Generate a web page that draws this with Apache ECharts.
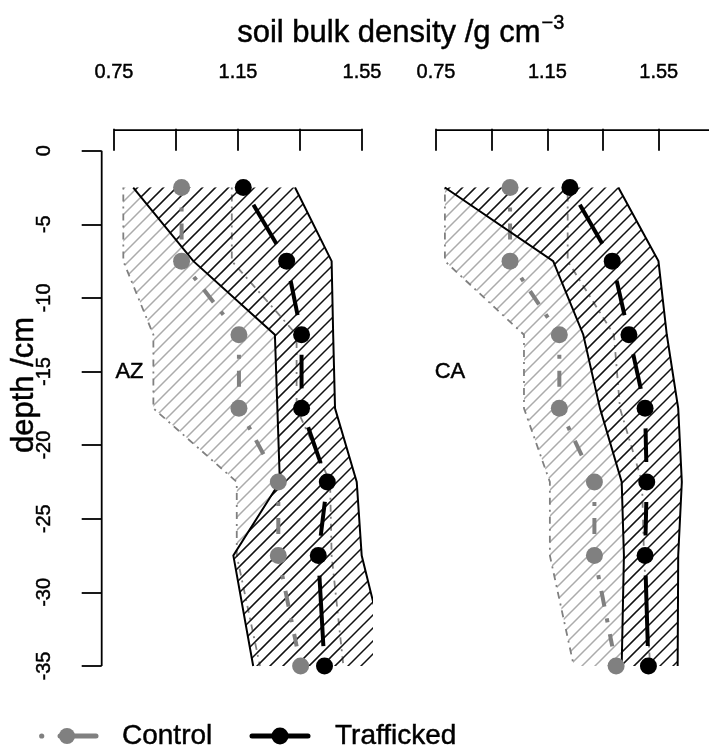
<!DOCTYPE html>
<html>
<head>
<meta charset="utf-8">
<script src="https://cdn.jsdelivr.net/npm/echarts@6/dist/echarts.min.js"></script>
<style>
  html, body { margin: 0; padding: 0; background: #fff; }
  #chart { width: 709px; height: 751px; }
</style>
</head>
<body>
<div id="chart"></div>
<script>
// Sampling depths (cm, negative downwards)
const depth = [-2.5, -7.5, -12.5, -17.5, -22.5, -27.5, -35];

// AZ site: mean bulk density and envelope (g cm-3)
const azControl      = [0.968, 0.968, 1.153, 1.153, 1.280, 1.280, 1.352];
const azControlLow   = [0.780, 0.780, 0.877, 0.877, 1.146, 1.146, 1.221];
const azControlHigh  = [1.130, 1.130, 1.339, 1.339, 1.447, 1.452, 1.490];
const azTraffic      = [1.167, 1.307, 1.355, 1.355, 1.438, 1.409, 1.429];
const azTrafficLow   = [0.812, 1.006, 1.269, 1.277, 1.285, 1.135, 1.199];
const azTrafficHigh  = [1.334, 1.452, 1.457, 1.463, 1.533, 1.549, 1.637];

// CA site
const caControl      = [1.016, 1.016, 1.193, 1.193, 1.319, 1.319, 1.397];
const caControlLow   = [0.782, 0.782, 1.066, 1.066, 1.159, 1.159, 1.245];
const caControlHigh  = [1.223, 1.223, 1.389, 1.411, 1.490, 1.497, 1.519];
const caTraffic      = [1.231, 1.383, 1.443, 1.501, 1.507, 1.501, 1.513];
const caTrafficLow   = [0.782, 1.171, 1.279, 1.339, 1.417, 1.425, 1.417];
const caTrafficHigh  = [1.405, 1.549, 1.579, 1.620, 1.633, 1.620, 1.618];

// Axis ticks and labels
const xTicks  = [0.75, 0.95, 1.15, 1.35, 1.55];
const xLabels = [0.75, 1.15, 1.55];
const yTicks  = [0, -5, -10, -15, -20, -25, -30, -35];
const siteNames = ['AZ', 'CA'];

const FONT = "'Liberation Sans', Arial, Helvetica, sans-serif";
const GREY = '#808080';
const GAP = 20;           // gap left around each point by the connecting segments
const TEXT_EDGE = 0.45;   // slight stroke to give labels a heavier weight

// axis ranges (data units) for both panels
const Y_MIN = -36.4, Y_MAX = 1.4;
const X1_MIN = 0.7103, X1_MAX = 1.5845;
const X2_MIN = 0.7103, X2_MAX = 1.7306;

function hatchTile(color, width) {
  const s = 13;
  const c = document.createElement('canvas');
  c.width = s; c.height = s;
  const g = c.getContext('2d');
  g.strokeStyle = color;
  g.lineWidth = width;
  g.beginPath();
  for (const k of [-1, 0, 1]) {
    g.moveTo(k * s - 1, s + 1);
    g.lineTo(k * s + s + 1, -1);
  }
  g.stroke();
  return c;
}
const greyHatch = hatchTile('#ababab', 1.5);
const blackHatch = hatchTile('#111111', 1.5);

function bandRows(low, high) {
  return depth.map((d, i) => [low[i], high[i], d]);
}

// hatched envelope between low and high curves
function bandFill(panel, low, high, tile) {
  return {
    type: 'custom', xAxisIndex: panel, yAxisIndex: panel, clip: true, silent: true,
    data: bandRows(low, high),
    encode: { x: [0, 1], y: 2 },
    renderItem(params, api) {
      if (params.dataIndex !== 0) return null;
      const L = depth.map((d, i) => api.coord([low[i], d]));
      const R = depth.map((d, i) => api.coord([high[i], d]));
      return {
        type: 'polygon',
        shape: { points: L.concat(R.slice().reverse()) },
        style: { fill: { image: tile, repeat: 'repeat' }, stroke: null }
      };
    }
  };
}

// side edges of an envelope
function bandEdges(panel, low, high, color, width, dash) {
  return {
    type: 'custom', xAxisIndex: panel, yAxisIndex: panel, clip: true, silent: true,
    data: bandRows(low, high),
    encode: { x: [0, 1], y: 2 },
    renderItem(params, api) {
      if (params.dataIndex !== 0) return null;
      const L = depth.map((d, i) => api.coord([low[i], d]));
      const R = depth.map((d, i) => api.coord([high[i], d]));
      const st = { fill: null, stroke: color, lineWidth: width, lineDash: dash };
      return {
        type: 'group',
        children: [
          { type: 'polyline', shape: { points: L }, style: st },
          { type: 'polyline', shape: { points: R }, style: st }
        ]
      };
    }
  };
}

// connecting segments that stop short of each point
function links(panel, xs, color, width, dash) {
  return {
    type: 'custom', xAxisIndex: panel, yAxisIndex: panel, clip: false, silent: true,
    data: depth.map((d, i) => [xs[i], d]),
    renderItem(params, api) {
      const i = params.dataIndex;
      if (i === 0) return null;
      const a = api.coord([xs[i - 1], depth[i - 1]]);
      const b = api.coord([xs[i], depth[i]]);
      const dx = b[0] - a[0], dy = b[1] - a[1];
      const len = Math.hypot(dx, dy);
      if (len <= 2 * GAP) return null;
      const ux = dx / len, uy = dy / len;
      return {
        type: 'line',
        shape: { x1: a[0] + ux * GAP, y1: a[1] + uy * GAP, x2: b[0] - ux * GAP, y2: b[1] - uy * GAP },
        style: { stroke: color, lineWidth: width, lineDash: dash, lineCap: 'butt' }
      };
    }
  };
}

function points(panel, xs, color) {
  return {
    type: 'scatter', xAxisIndex: panel, yAxisIndex: panel, silent: true,
    data: depth.map((d, i) => [xs[i], d]),
    symbol: 'circle', symbolSize: 17,
    itemStyle: { color: color, opacity: 1 }
  };
}

// axis lines: top line from first tick to xTo, left line from first to last depth tick
function axisLines(panel, xFrom, xTo, yTop, withY, xLeft) {
  return {
    type: 'custom', xAxisIndex: panel, yAxisIndex: panel, clip: false, silent: true,
    data: [[xFrom, yTop]],
    renderItem(params, api) {
      const a = api.coord([xFrom, yTop]);
      const b = api.coord([xTo, yTop]);
      const st = { stroke: '#000', lineWidth: 1.8 };
      const kids = [{ type: 'line', shape: { x1: a[0], y1: a[1], x2: b[0], y2: b[1] }, style: st }];
      if (withY) {
        const c = api.coord([xLeft, yTicks[0]]);
        const d = api.coord([xLeft, yTicks[yTicks.length - 1]]);
        kids.push({ type: 'line', shape: { x1: c[0], y1: c[1], x2: d[0], y2: d[1] }, style: st });
      }
      return { type: 'group', children: kids };
    }
  };
}

function siteLabel(panel, name) {
  return {
    type: 'custom', xAxisIndex: panel, yAxisIndex: panel, clip: false, silent: true,
    data: [[0.8, -15]],
    renderItem(params, api) {
      const p = api.coord([api.value(0), api.value(1)]);
      return {
        type: 'text',
        style: { text: name, x: p[0], y: p[1], align: 'center', verticalAlign: 'middle',
                 font: '22px ' + FONT, fill: '#000', stroke: '#000', lineWidth: TEXT_EDGE }
      };
    }
  };
}

function xAxisOpt(panel, min, max) {
  return {
    gridIndex: panel, type: 'value', position: 'top', min: min, max: max,
    axisLine: { show: false }, splitLine: { show: false },
    axisTick: { show: true, customValues: xTicks, length: 22, inside: false,
                lineStyle: { color: '#000', width: 1.8 } },
    axisLabel: { show: true, customValues: xLabels, formatter: v => Number(v).toFixed(2),
                 fontSize: 20, fontFamily: FONT, color: '#000', margin: 48,
                 textBorderColor: '#000', textBorderWidth: TEXT_EDGE }
  };
}

const chart = echarts.init(document.getElementById('chart'), null, { renderer: 'canvas' });

chart.setOption({
  animation: false,
  backgroundColor: '#fff',
  grid: [
    { left: 101.7, top: 130.1, width: 271.0, height: 556.5 },
    { left: 424.95, top: 130.1, width: 284.05, height: 556.5 }
  ],
  xAxis: [
    xAxisOpt(0, X1_MIN, X1_MAX),
    xAxisOpt(1, X2_MIN, X2_MAX)
  ],
  yAxis: [
    {
      gridIndex: 0, type: 'value', min: Y_MIN, max: Y_MAX,
      axisLine: { show: false }, splitLine: { show: false },
      axisTick: { show: true, customValues: yTicks, length: 20, lineStyle: { color: '#000', width: 1.8 } },
      axisLabel: { show: true, customValues: yTicks, rotate: 90, fontSize: 20, fontFamily: FONT,
                   color: '#000', margin: 47, textBorderColor: '#000', textBorderWidth: TEXT_EDGE }
    },
    {
      gridIndex: 1, type: 'value', min: Y_MIN, max: Y_MAX,
      axisLine: { show: false }, splitLine: { show: false },
      axisTick: { show: false }, axisLabel: { show: false }
    }
  ],
  series: [
    // AZ panel
    bandFill(0, azControlLow, azControlHigh, greyHatch),
    bandEdges(0, azControlLow, azControlHigh, GREY, 1.8, [2, 5, 7, 5]),
    bandFill(0, azTrafficLow, azTrafficHigh, blackHatch),
    links(0, azControl, GREY, 4, [4, 12, 16, 12]),
    points(0, azControl, GREY),
    bandEdges(0, azTrafficLow, azTrafficHigh, '#000', 2, null),
    links(0, azTraffic, '#000', 4, null),
    points(0, azTraffic, '#000'),
    axisLines(0, xTicks[0], xTicks[xTicks.length - 1], Y_MAX, true, X1_MIN),
    siteLabel(0, siteNames[0]),
    // CA panel
    bandFill(1, caControlLow, caControlHigh, greyHatch),
    bandEdges(1, caControlLow, caControlHigh, GREY, 1.8, [2, 5, 7, 5]),
    bandFill(1, caTrafficLow, caTrafficHigh, blackHatch),
    links(1, caControl, GREY, 4, [4, 12, 16, 12]),
    points(1, caControl, GREY),
    bandEdges(1, caTrafficLow, caTrafficHigh, '#000', 2, null),
    links(1, caTraffic, '#000', 4, null),
    points(1, caTraffic, '#000'),
    axisLines(1, xTicks[0], X2_MAX, Y_MAX, false, X2_MIN),
    siteLabel(1, siteNames[1])
  ],
  graphic: [
    {
      type: 'text', left: 237, top: 13,
      style: {
        text: '{a|soil bulk density /g cm}{b|\u22123}',
        rich: {
          a: { fontSize: 31, fontFamily: FONT, fill: '#000', lineHeight: 36, verticalAlign: 'bottom',
               stroke: '#000', lineWidth: TEXT_EDGE },
          b: { fontSize: 20, fontFamily: FONT, fill: '#000', lineHeight: 36, verticalAlign: 'top',
               padding: [0, 0, 14, 1], stroke: '#000', lineWidth: TEXT_EDGE }
        }
      }
    },
    {
      type: 'text', x: 24, y: 385, rotation: Math.PI / 2,
      style: { text: 'depth /cm', font: '31px ' + FONT, fill: '#000', align: 'center', verticalAlign: 'middle',
               stroke: '#000', lineWidth: TEXT_EDGE }
    },
    // legend
    { type: 'circle', shape: { cx: 41.7, cy: 736, r: 2.6 }, style: { fill: GREY } },
    { type: 'line', shape: { x1: 60, y1: 736, x2: 96, y2: 736 }, style: { stroke: GREY, lineWidth: 5, lineCap: 'round' } },
    { type: 'circle', shape: { cx: 67, cy: 736, r: 8 }, style: { fill: GREY } },
    { type: 'text', x: 122, y: 736, style: { text: 'Control', font: '28px ' + FONT, fill: '#000', verticalAlign: 'middle',
      stroke: '#000', lineWidth: TEXT_EDGE } },
    { type: 'line', shape: { x1: 252, y1: 736, x2: 308, y2: 736 }, style: { stroke: '#000', lineWidth: 5, lineCap: 'round' } },
    { type: 'circle', shape: { cx: 280, cy: 736, r: 8.5 }, style: { fill: '#000' } },
    { type: 'text', x: 335, y: 736, style: { text: 'Trafficked', font: '28px ' + FONT, fill: '#000', verticalAlign: 'middle',
      stroke: '#000', lineWidth: TEXT_EDGE } }
  ]
});
</script>
</body>
</html>
